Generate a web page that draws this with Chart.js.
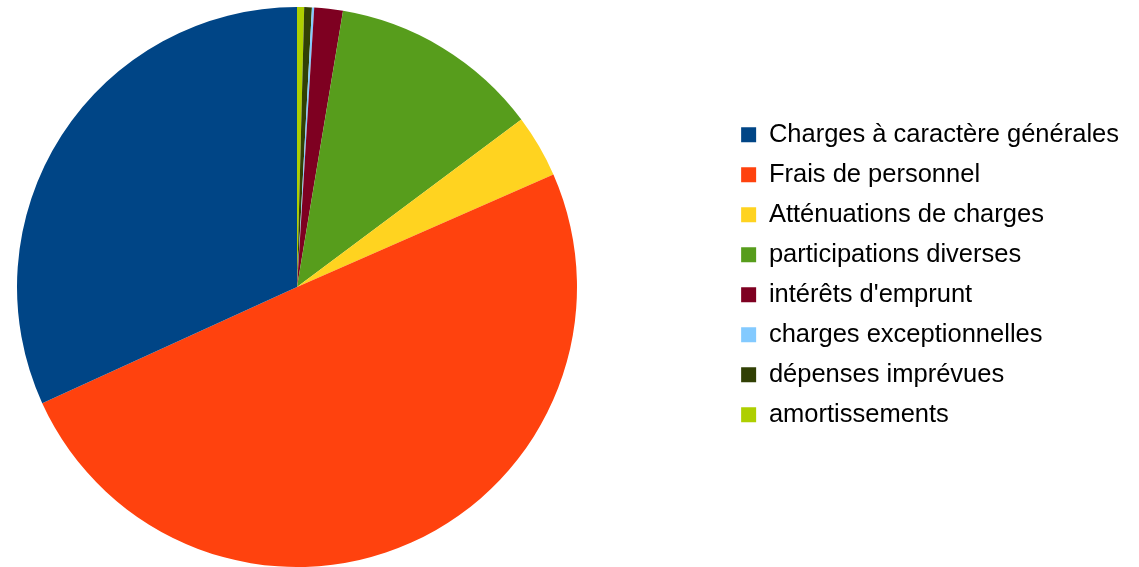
<!DOCTYPE html>
<html>
<head>
<meta charset="utf-8">
<script src="https://cdn.jsdelivr.net/npm/chart.js@4.4.1/dist/chart.umd.min.js"></script>
<style>
  html, body { margin: 0; padding: 0; background: #fff; }
  canvas { display: block; }
</style>
</head>
<body>
<canvas id="pie" width="1139" height="567"></canvas>
<script>
document.addEventListener('DOMContentLoaded', function () {
  // legend order (same as the source spreadsheet)
  const categories = [
    'Charges à caractère générales',
    'Frais de personnel',
    'Atténuations de charges',
    'participations diverses',
    "intérêts d'emprunt",
    'charges exceptionnelles',
    'dépenses imprévues',
    'amortissements'
  ];
  // share of the budget, in %
  const shares = [31.81, 49.78, 3.63, 12.16, 1.65, 0.13, 0.44, 0.41];
  const colors = ['#004586', '#ff420e', '#ffd320', '#579d1c', '#7e0021', '#83caff', '#314004', '#aecf00'];

  // the original goes counter-clockwise from 12 o'clock, Chart.js goes clockwise,
  // so feed the slices reversed and flip the legend back
  const labelsRev = categories.slice().reverse();
  const dataRev = shares.slice().reverse();
  const colorsRev = colors.slice().reverse();

  // pie sits far left of the legend in the original: widen the chart area leftwards
  const PIE_CENTER_X = 297;
  const shiftPie = {
    id: 'shiftPie',
    afterLayout(chart) {
      const a = chart.chartArea;
      a.left = 2 * PIE_CENTER_X - a.right;
      a.width = a.right - a.left;
    }
  };

  const ctx = document.getElementById('pie').getContext('2d');
  new Chart(ctx, {
    type: 'pie',
    data: {
      labels: labelsRev,
      datasets: [{ data: dataRev, backgroundColor: colorsRev, borderWidth: 0 }]
    },
    plugins: [shiftPie],
    options: {
      responsive: false,
      animation: false,
      devicePixelRatio: 1,
      events: [],
      layout: { padding: { left: 0, right: 10, top: 7, bottom: 0 } },
      plugins: {
        tooltip: { enabled: false },
        legend: {
          position: 'right',
          align: 'start',
          reverse: true,
          title: { display: true, text: '', font: { size: 10 }, padding: { top: 0, bottom: 88.5 } },
          labels: {
            boxWidth: 15,
            boxHeight: 15,
            padding: 14.5,
            color: '#000',
            font: { family: '"Liberation Sans", Arial, sans-serif', size: 25.5 }
          }
        }
      }
    }
  });
});
</script>
</body>
</html>
